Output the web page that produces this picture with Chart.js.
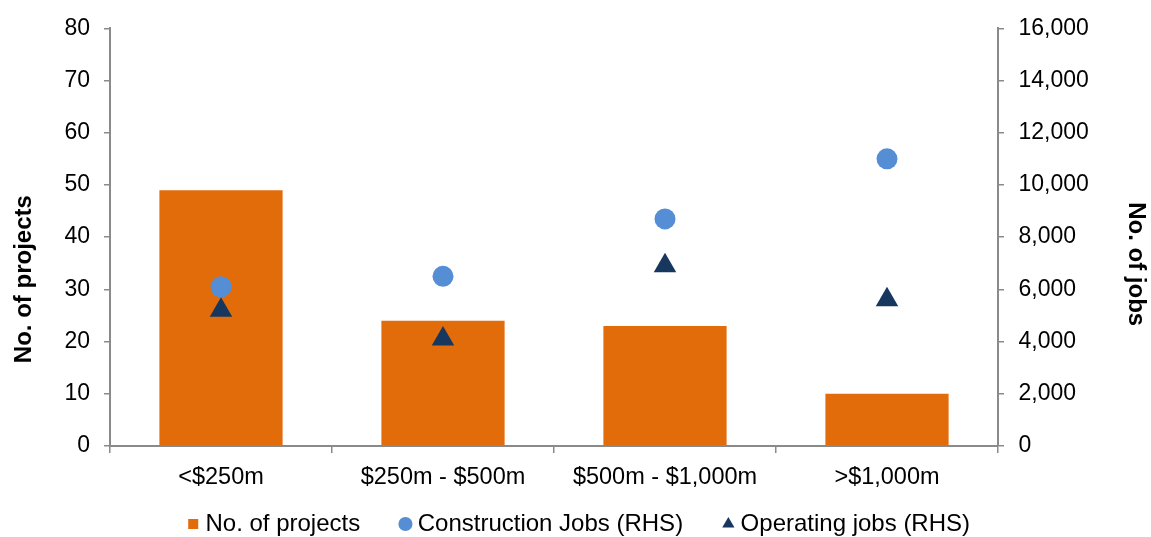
<!DOCTYPE html>
<html>
<head>
<meta charset="utf-8">
<style>
  html, body { margin: 0; padding: 0; background: #ffffff; }
  #wrap { width: 1151px; height: 537px; }
</style>
<script src="https://cdn.jsdelivr.net/npm/chart.js@4.4.1/dist/chart.umd.min.js"></script>
</head>
<body>
<div id="wrap"><canvas id="chart" width="1151" height="537"></canvas></div>
<script>
// Project size bands
const categories = ['<$250m', '$250m - $500m', '$500m - $1,000m', '>$1,000m'];
// Number of projects in each band (left axis)
const projects = [49, 24, 23, 10];
// Jobs by band (right axis)
const constructionJobs = [6100, 6500, 8700, 11000];
const operatingJobs = [5200, 4100, 6900, 5600];
// Axis ranges
const projectsAxisMax = 80;
const projectsAxisStep = 10;
const jobsAxisMax = 16000;
const jobsAxisStep = 2000;
// Axis titles
const leftTitle = 'No. of projects';
const rightTitle = 'No. of jobs';

const FONT = "'Liberation Sans', Arial, sans-serif";
const AXIS_GREY = '#8a8a8a';
const legendStyles = ['rect', 'circle', 'triangle'];
const LEGEND_FONT_SIZE = 24;
const LEGEND_ROW_Y = 524;

// Keeps the legend row close under the category labels.
const legendRowPlugin = {
  id: 'legendRow',
  afterLayout(chart) {
    const lg = chart.legend;
    if (!lg) return;
    const h = lg.height;
    lg.top = LEGEND_ROW_Y - lg.options.labels.padding - LEGEND_FONT_SIZE / 2;
    lg.bottom = lg.top + h;
  }
};

// Rotated bold titles beside the two value axes.
const axisTitlePlugin = {
  id: 'axisTitles',
  afterDraw(chart) {
    const {ctx, chartArea} = chart;
    const mid = (chartArea.top + chartArea.bottom) / 2;
    ctx.save();
    ctx.font = 'bold 24px ' + FONT;
    ctx.fillStyle = '#000000';
    ctx.textAlign = 'center';
    ctx.textBaseline = 'middle';

    ctx.save();
    ctx.translate(24, mid + 42);
    ctx.rotate(-Math.PI / 2);
    ctx.fillText(leftTitle, 0, 0);
    ctx.restore();

    ctx.save();
    ctx.translate(1136, mid + 27);
    ctx.rotate(Math.PI / 2);
    ctx.fillText(rightTitle, 0, 0);
    ctx.restore();

    ctx.restore();
  }
};

const chart = new Chart(document.getElementById('chart'), {
  type: 'bar',
  data: {
    labels: categories,
    datasets: [
      {
        label: 'No. of projects',
        data: projects,
        yAxisID: 'y',
        backgroundColor: '#E36C0A',
        borderWidth: 0,
        barPercentage: 0.555,
        categoryPercentage: 1.0,
        order: 2
      },
      {
        type: 'line',
        label: 'Construction Jobs (RHS)',
        data: constructionJobs,
        yAxisID: 'y1',
        showLine: false,
        pointStyle: 'circle',
        pointRadius: 10.5,
        pointHoverRadius: 10.5,
        backgroundColor: '#558ED5',
        borderColor: '#558ED5',
        pointBackgroundColor: '#558ED5',
        pointBorderWidth: 0,
        borderWidth: 0,
        order: 1
      },
      {
        type: 'line',
        label: 'Operating jobs (RHS)',
        data: operatingJobs,
        yAxisID: 'y1',
        showLine: false,
        pointStyle: 'triangle',
        pointRadius: 13,
        pointHoverRadius: 13,
        backgroundColor: '#17375E',
        borderColor: '#17375E',
        pointBackgroundColor: '#17375E',
        pointBorderWidth: 0,
        borderWidth: 0,
        order: 0
      }
    ]
  },
  plugins: [legendRowPlugin, axisTitlePlugin],
  options: {
    responsive: false,
    animation: false,
    devicePixelRatio: 1,
    layout: { padding: { left: 0, right: -12, top: 24.5, bottom: -33 } },
    plugins: {
      tooltip: { enabled: false },
      legend: {
        position: 'bottom',
        labels: {
          usePointStyle: true,
          boxWidth: 0.5,
          boxHeight: 10,
          padding: 45,
          color: '#000000',
          font: { family: FONT, size: LEGEND_FONT_SIZE },
          sort: (a, b) => a.datasetIndex - b.datasetIndex,
          generateLabels: (c) => Chart.defaults.plugins.legend.labels.generateLabels(c)
            .map(item => Object.assign(item, {
              pointStyle: legendStyles[item.datasetIndex],
              lineWidth: 0
            }))
        }
      }
    },
    scales: {
      x: {
        type: 'category',
        offset: true,
        grid: {
          display: true,
          offset: true,
          drawOnChartArea: false,
          drawTicks: true,
          tickLength: 7,
          color: AXIS_GREY,
          lineWidth: 1.5
        },
        border: { display: true, color: AXIS_GREY, width: 2 },
        ticks: {
          color: '#000000',
          padding: 10,
          maxRotation: 0,
          font: { family: FONT, size: 23.5 }
        },
        afterFit: (scale) => { scale.height = 45; }
      },
      y: {
        position: 'left',
        min: 0,
        max: projectsAxisMax,
        grid: {
          drawOnChartArea: false,
          drawTicks: true,
          tickLength: 6,
          color: AXIS_GREY,
          lineWidth: 1.5
        },
        border: { display: true, color: AXIS_GREY, width: 2 },
        ticks: {
          stepSize: projectsAxisStep,
          padding: 14,
          color: '#000000',
          font: { family: FONT, size: 23 }
        },
        afterFit: (scale) => { scale.width = 110; }
      },
      y1: {
        position: 'right',
        min: 0,
        max: jobsAxisMax,
        grid: {
          drawOnChartArea: false,
          drawTicks: true,
          tickLength: 6,
          color: AXIS_GREY,
          lineWidth: 1.5
        },
        border: { display: true, color: AXIS_GREY, width: 2 },
        ticks: {
          stepSize: jobsAxisStep,
          padding: 14.5,
          color: '#000000',
          font: { family: FONT, size: 23 },
          callback: (v) => Number(v).toLocaleString('en-US')
        },
        afterFit: (scale) => { scale.width = 165; }
      }
    }
  }
});
</script>
</body>
</html>
